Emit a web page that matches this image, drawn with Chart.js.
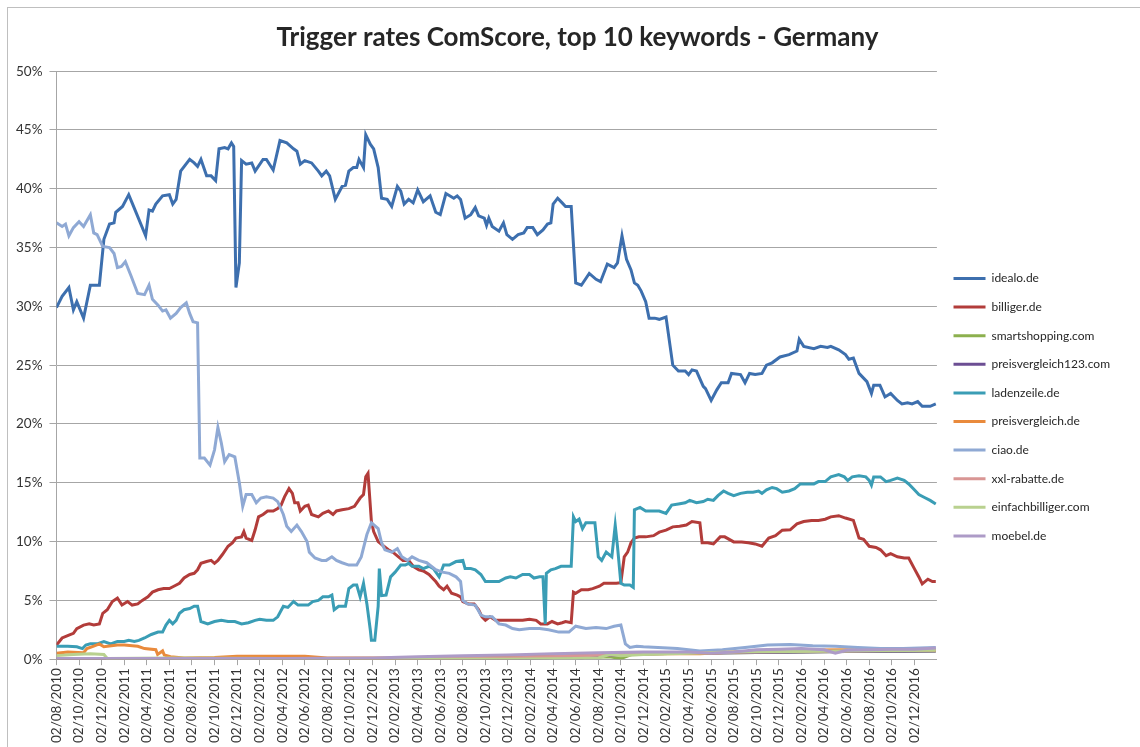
<!DOCTYPE html>
<html>
<head>
<meta charset="utf-8">
<script src="https://cdn.jsdelivr.net/npm/chart.js@4"></script>
<style>
  body { margin: 0; background: #fff; }
  #frame { position: absolute; left: 7px; top: 7px; width: 1133px; height: 740px;
           border-left: 1px solid #bfbfbf; border-top: 1px solid #bfbfbf; }
  #wrap { position: absolute; left: 8px; top: 8px; width: 1132px; height: 739px; }
</style>
</head>
<body>
<div id="frame"></div>
<div id="wrap"><canvas id="trigChart"></canvas></div>
<script>
// x = months since 02/08/2010, y = trigger rate in %
const tickLabels = [
  "02/08/2010", "02/10/2010", "02/12/2010",
  "02/02/2011", "02/04/2011", "02/06/2011", "02/08/2011", "02/10/2011", "02/12/2011",
  "02/02/2012", "02/04/2012", "02/06/2012", "02/08/2012", "02/10/2012", "02/12/2012",
  "02/02/2013", "02/04/2013", "02/06/2013", "02/08/2013", "02/10/2013", "02/12/2013",
  "02/02/2014", "02/04/2014", "02/06/2014", "02/08/2014", "02/10/2014", "02/12/2014",
  "02/02/2015", "02/04/2015", "02/06/2015", "02/08/2015", "02/10/2015", "02/12/2015",
  "02/02/2016", "02/04/2016", "02/06/2016", "02/08/2016", "02/10/2016", "02/12/2016"
];

const seriesNames = [
  "idealo.de", "billiger.de", "smartshopping.com", "preisvergleich123.com", "ladenzeile.de",
  "preisvergleich.de", "ciao.de", "xxl-rabatte.de", "einfachbilliger.com", "moebel.de"
];

const idealo = [
  [0,29.9],[0.5,30.85],[1.1,31.6],[1.5,29.7],[1.8,30.4],[2.4,29.0],[3.0,31.8],[3.8,31.8],
  [4.2,35.7],[4.7,37.0],[5.1,37.1],[5.25,38.0],[5.85,38.5],[6.4,39.5],[6.7,38.8],[7.9,36.0],
  [8.2,38.2],[8.5,38.1],[8.8,38.7],[9.4,39.4],[10.0,39.5],[10.3,38.7],[10.6,39.1],[11.0,41.5],
  [11.8,42.5],[12.2,42.2],[12.5,41.9],[12.8,42.5],[13.3,41.1],[13.7,41.1],[14.1,40.7],[14.4,43.4],
  [14.9,43.5],[15.2,43.4],[15.5,43.9],[15.7,43.6],[15.9,31.6],[16.2,33.7],[16.4,42.4],[16.8,42.1],
  [17.3,42.2],[17.6,41.5],[18.3,42.5],[18.6,42.5],[19.2,41.6],[19.8,44.1],[20.4,43.9],[21.0,43.4],
  [21.3,43.2],[21.6,42.1],[22.0,42.4],[22.6,42.2],[23.2,41.5],[23.5,41.1],[23.9,41.5],[24.2,41.1],
  [24.7,39.1],[25.3,40.2],[25.6,40.3],[25.9,41.5],[26.3,41.8],[26.6,41.8],[26.8,42.5],[27.2,41.8],
  [27.4,44.6],[27.8,43.8],[28.1,43.4],[28.5,41.8],[28.8,39.2],[29.3,39.1],[29.7,38.5],[30.2,40.2],
  [30.5,39.8],[30.8,38.7],[31.2,39.1],[31.6,38.8],[32.0,39.9],[32.5,38.9],[33.1,39.4],[33.6,38.0],
  [34.0,37.8],[34.5,39.6],[35.2,39.2],[35.5,39.4],[35.8,39.1],[36.2,37.5],[36.7,37.8],[37.1,38.4],
  [37.4,37.7],[37.9,37.5],[38.1,36.9],[38.3,37.5],[38.6,36.8],[39.2,36.4],[39.6,37.1],[39.9,36.1],
  [40.4,35.7],[40.9,36.1],[41.4,36.25],[41.7,36.7],[42.2,36.7],[42.6,36.1],[43.1,36.5],[43.5,37.0],
  [43.8,37.1],[44.0,38.7],[44.4,39.2],[44.8,38.8],[45.1,38.5],[45.6,38.5],[46.0,32.0],[46.5,31.8],
  [47.2,32.8],[47.8,32.3],[48.2,32.1],[48.8,33.6],[49.4,33.3],[49.7,33.7],[50.1,36.0],[50.5,34.0],
  [50.9,33.1],[51.2,32.0],[51.5,31.8],[51.8,31.3],[52.2,30.4],[52.5,29.0],[53.0,29.0],[53.4,28.9],
  [54.0,29.1],[54.6,25.0],[55.1,24.5],[55.7,24.5],[56.0,24.2],[56.3,24.6],[56.7,24.5],[57.3,23.2],
  [57.5,23.0],[58.0,22.0],[58.5,22.9],[58.9,23.5],[59.5,23.5],[59.8,24.3],[60.6,24.2],[61.0,23.5],
  [61.4,24.3],[61.9,24.2],[62.5,24.3],[62.9,25.0],[63.4,25.2],[64.1,25.7],[64.9,25.9],[65.6,26.2],
  [65.8,27.2],[66.2,26.6],[67.1,26.4],[67.7,26.6],[68.3,26.5],[68.6,26.6],[69.3,26.3],[69.9,25.9],
  [70.2,25.5],[70.6,25.6],[71.1,24.3],[71.8,23.6],[72.2,22.6],[72.4,23.3],[72.95,23.3],[73.4,22.3],
  [73.9,22.6],[74.5,22.0],[74.9,21.7],[75.4,21.8],[75.8,21.7],[76.3,21.9],[76.7,21.5],[77.4,21.5],
  [77.9,21.7]
];

const billiger = [
  [0,1.2],[0.5,1.8],[1.1,2.05],[1.5,2.2],[1.8,2.6],[2.4,2.9],[2.9,3.0],[3.3,2.9],[3.8,3.0],
  [4.1,3.9],[4.5,4.2],[4.95,4.9],[5.4,5.2],[5.8,4.6],[6.3,4.9],[6.7,4.6],[7.2,4.7],[7.6,5.0],
  [8.1,5.3],[8.5,5.7],[9.0,5.9],[9.5,6.0],[10.0,6.0],[10.4,6.2],[10.9,6.45],[11.3,6.9],[11.8,7.2],
  [12.2,7.3],[12.5,7.6],[12.8,8.15],[13.3,8.3],[13.7,8.4],[14.0,8.15],[14.3,8.4],[14.7,8.9],
  [15.2,9.6],[15.6,9.9],[15.9,10.3],[16.4,10.4],[16.6,10.85],[16.8,10.3],[17.3,10.1],[17.6,11.0],
  [17.9,12.1],[18.3,12.3],[18.7,12.6],[19.2,12.6],[19.6,12.8],[19.9,13.1],[20.2,13.8],[20.6,14.5],
  [20.9,14.1],[21.1,13.3],[21.4,13.3],[21.6,12.6],[22.0,13.0],[22.3,13.1],[22.6,12.3],[23.2,12.1],
  [23.6,12.4],[24.1,12.6],[24.5,12.3],[24.8,12.6],[25.3,12.7],[25.9,12.8],[26.4,13.0],[26.9,13.7],
  [27.2,14.0],[27.4,15.5],[27.6,15.8],[27.9,11.7],[28.1,10.85],[28.5,10.0],[29.0,9.6],[29.4,9.3],
  [29.8,9.1],[30.3,8.7],[30.7,8.4],[31.2,8.4],[31.6,7.9],[32.1,7.6],[32.5,7.5],[33.0,7.2],[33.3,6.9],
  [33.6,6.6],[33.9,6.2],[34.3,5.9],[34.6,6.2],[35.0,5.6],[35.5,5.45],[35.8,5.3],[36.0,4.9],
  [36.5,4.7],[37.0,4.7],[37.4,4.2],[37.7,3.6],[38.0,3.3],[38.4,3.6],[38.9,3.3],[39.5,3.3],
  [40.1,3.3],[40.7,3.3],[41.3,3.3],[41.9,3.4],[42.5,3.3],[42.9,3.0],[43.5,3.0],[43.9,3.2],
  [44.4,3.0],[44.8,3.1],[45.1,3.2],[45.6,3.1],[45.8,5.7],[46.0,5.6],[46.5,5.9],[47.1,5.9],
  [47.5,6.0],[48.1,6.2],[48.5,6.45],[49.0,6.45],[49.6,6.45],[50.0,6.5],[50.3,8.7],[50.6,9.1],
  [50.9,9.9],[51.2,10.3],[51.6,10.4],[52.2,10.4],[52.9,10.5],[53.4,10.8],[54.0,10.97],[54.6,11.25],
  [55.2,11.3],[55.8,11.4],[56.3,11.7],[57.0,11.6],[57.2,9.9],[57.7,9.9],[58.2,9.8],[58.8,10.4],
  [59.2,10.4],[60.0,9.97],[60.7,9.97],[61.3,9.9],[61.9,9.8],[62.5,9.6],[63.1,10.3],[63.7,10.5],
  [64.3,10.97],[65.0,11.0],[65.6,11.5],[66.2,11.7],[66.9,11.8],[67.5,11.8],[68.1,11.9],[68.6,12.1],
  [69.3,12.2],[69.9,12.0],[70.6,11.8],[71.1,10.3],[71.5,10.2],[72.0,9.6],[72.6,9.5],[73.0,9.3],
  [73.5,8.8],[73.9,8.97],[74.5,8.7],[75.1,8.6],[75.5,8.6],[76.0,7.7],[76.4,6.99],[76.7,6.4],
  [77.2,6.8],[77.6,6.6],[77.9,6.6]
];

const smartshopping = [
  [0,0],[35,0],[40,0.1],[45,0.15],[49,0.2],[50,0.05],[51,0.4],[55,0.5],[60,0.55],[70,0.65],[77.9,0.7]
];

const preisvergleich123 = [
  [0,0],[40,0],[43.5,0.1],[45,0.2],[46.5,0.1],[48,0.3],[52,0.45],[60,0.55],[70,0.65],[77.9,0.7]
];

const ladenzeile = [
  [0,1.1],[1.0,1.1],[1.8,1.05],[2.3,0.9],[2.6,1.2],[3.0,1.3],[3.6,1.3],[4.2,1.5],[4.8,1.3],
  [5.4,1.5],[6.0,1.5],[6.4,1.6],[6.9,1.5],[7.3,1.6],[7.8,1.8],[8.4,2.1],[9.0,2.3],[9.4,2.3],
  [9.7,2.9],[10.0,3.3],[10.3,3.0],[10.6,3.3],[10.9,3.9],[11.3,4.2],[11.8,4.3],[12.2,4.5],[12.5,4.5],
  [12.8,3.2],[13.4,3.0],[14.0,3.2],[14.6,3.3],[15.2,3.2],[15.8,3.2],[16.4,3.0],[17.0,3.1],
  [17.6,3.3],[18.0,3.4],[18.6,3.3],[19.2,3.3],[19.6,3.6],[20.1,4.5],[20.5,4.4],[21.0,4.9],
  [21.4,4.6],[22.3,4.6],[22.7,4.9],[23.2,5.0],[23.6,5.3],[24.1,5.3],[24.4,5.45],[24.6,4.2],
  [25.0,4.5],[25.6,4.5],[25.9,6.0],[26.3,6.3],[26.6,6.3],[26.9,5.3],[27.2,6.45],[27.5,4.7],
  [27.8,2.5],[27.9,1.6],[28.2,1.6],[28.5,4.5],[28.6,7.7],[28.8,5.4],[29.2,5.45],[29.6,7.0],
  [30.0,7.4],[30.5,8.0],[30.9,8.0],[31.2,8.15],[31.5,7.9],[32.1,7.9],[32.5,7.7],[33.0,7.9],
  [33.4,7.7],[33.9,7.0],[34.3,8.0],[34.8,8.0],[35.4,8.3],[36.0,8.4],[36.2,7.7],[36.7,7.7],
  [37.1,7.6],[37.6,7.2],[38.0,6.6],[38.4,6.6],[39.2,6.6],[39.8,6.9],[40.2,7.0],[40.7,6.9],
  [41.3,7.2],[41.9,7.2],[42.3,6.9],[42.8,7.0],[43.1,7.0],[43.3,3.0],[43.4,7.3],[43.8,7.6],
  [44.2,7.7],[44.7,7.9],[45.6,7.9],[45.8,12.1],[46.0,11.7],[46.3,11.9],[46.6,11.1],[46.9,11.6],
  [47.7,11.6],[48.0,8.7],[48.3,8.4],[48.7,9.1],[49.2,8.7],[49.5,11.4],[49.7,9.6],[50.0,6.45],
  [50.3,6.3],[50.8,6.3],[51.1,6.1],[51.2,12.7],[51.7,12.9],[52.2,12.6],[53.4,12.6],[54.0,12.4],
  [54.5,13.1],[55.1,13.2],[55.7,13.3],[56.1,13.5],[56.7,13.3],[57.3,13.4],[57.7,13.6],[58.2,13.5],
  [58.6,13.9],[59.1,14.3],[59.5,14.1],[60.0,13.9],[60.6,14.1],[61.2,14.2],[61.7,14.2],[62.2,14.3],
  [62.5,14.1],[62.9,14.4],[63.4,14.6],[63.8,14.5],[64.3,14.2],[64.9,14.3],[65.4,14.5],[65.9,14.9],
  [66.5,14.9],[67.1,14.9],[67.5,15.1],[68.1,15.1],[68.6,15.5],[69.3,15.7],[69.8,15.5],[70.1,15.2],
  [70.5,15.5],[71.1,15.6],[71.7,15.5],[72.0,15.2],[72.2,14.8],[72.4,15.5],[73.0,15.5],[73.5,15.1],
  [73.9,15.2],[74.5,15.4],[75.1,15.2],[75.5,14.9],[76.0,14.4],[76.4,14.0],[76.9,13.75],[77.4,13.5],
  [77.9,13.2]
];

const preisvergleich = [
  [0,0.5],[1.0,0.6],[2.4,0.55],[2.7,0.9],[3.3,1.1],[3.8,1.3],[4.2,1.05],[5.4,1.2],[6.0,1.2],
  [7.2,1.1],[7.8,0.9],[8.8,0.8],[8.96,0.4],[9.4,0.7],[9.55,0.35],[10.1,0.2],[11.3,0.1],[14,0.15],
  [16,0.25],[22,0.25],[24,0.1],[30,0.1],[36,0.15],[42,0.25],[48,0.4],[52,0.45],[57,0.45],
  [60,0.6],[64,0.75],[70,0.8],[74,0.75],[77.9,0.75]
];

const ciao = [
  [0,37.1],[0.5,36.8],[0.8,37.0],[1.1,36.0],[1.5,36.7],[2.0,37.2],[2.4,36.8],[3.0,37.8],[3.3,36.25],
  [3.6,36.1],[4.1,35.1],[4.7,35.0],[5.1,34.5],[5.4,33.3],[5.75,33.4],[6.1,33.8],[6.6,32.6],
  [7.2,31.1],[7.8,31.0],[8.2,31.8],[8.5,30.6],[9.0,30.1],[9.4,29.6],[9.7,29.7],[10.1,29.0],
  [10.6,29.4],[11.0,29.9],[11.5,30.3],[11.8,29.4],[12.1,28.7],[12.5,28.6],[12.7,17.1],[13.1,17.1],
  [13.6,16.5],[14.0,17.8],[14.3,19.7],[14.6,18.4],[14.9,16.8],[15.3,17.4],[15.8,17.2],[16.2,15.0],
  [16.5,13.0],[16.8,14.0],[17.3,14.0],[17.7,13.3],[18.1,13.7],[18.6,13.8],[19.2,13.7],[19.6,13.4],
  [20.1,12.3],[20.4,11.3],[20.8,10.85],[21.3,11.4],[21.7,10.85],[22.2,10.0],[22.4,9.1],[22.9,8.6],
  [23.5,8.4],[23.9,8.4],[24.4,8.7],[24.8,8.4],[25.3,8.2],[25.9,8.0],[26.6,8.0],[27.0,8.7],
  [27.5,10.6],[27.9,11.6],[28.5,11.1],[28.8,9.9],[29.1,9.3],[29.7,9.1],[30.2,9.4],[30.6,8.7],
  [31.1,8.4],[31.5,8.7],[32.1,8.4],[32.8,8.2],[33.6,7.6],[34.2,7.4],[34.8,7.3],[35.4,7.0],
  [35.8,6.6],[36.0,5.0],[36.4,4.7],[37.1,4.6],[37.6,3.75],[38.0,3.6],[38.6,3.6],[39.2,3.0],
  [39.8,2.9],[40.4,2.6],[41.0,2.5],[41.9,2.6],[42.8,2.6],[43.6,2.5],[44.5,2.3],[45.4,2.3],
  [46.0,2.8],[46.9,2.6],[47.8,2.7],[48.7,2.6],[49.4,2.8],[50.0,2.9],[50.4,1.3],[50.8,1.0],
  [51.4,1.1],[52,1.05],[55,0.9],[57,0.7],[59,0.8],[61,1.0],[63,1.2],[65,1.25],[67,1.15],
  [69,1.1],[71,1.0],[73,0.9],[75,0.9],[77.9,1.0]
];

const xxlRabatte = [
  [0,0],[30,0],[40,0.1],[50,0.4],[60,0.6],[70,0.7],[77.9,0.8]
];

const einfachbilliger = [
  [0,0.3],[1.5,0.4],[3,0.45],[4.2,0.4],[4.5,0.05],[10,0.1],[20,0.05],[30,0],[40,0],[46,0.05],
  [48,0.1],[49,0.4],[50,0.3],[52,0.4],[60,0.6],[70,0.7],[77.9,0.75]
];

const moebel = [
  [0,0.05],[10,0.05],[20,0.05],[28,0.1],[32,0.2],[36,0.3],[40,0.35],[44,0.45],[48,0.55],
  [52,0.6],[56,0.6],[58,0.5],[60,0.6],[62,0.8],[64,0.85],[66,0.9],[68,0.8],[69,0.5],[70,0.75],
  [72,0.8],[74,0.85],[76,0.85],[77.9,0.95]
];

const seriesData = [idealo, billiger, smartshopping, preisvergleich123, ladenzeile,
  preisvergleich, ciao, xxlRabatte, einfachbilliger, moebel];
const seriesColors = ["#3d6fae", "#b23c3a", "#8cb04e", "#6c4e93", "#3a9db5",
  "#e98a3c", "#8fa9d4", "#d99694", "#b9d18f", "#ad9bc7"];

const datasets = seriesNames.map((name, i) => ({
  label: name,
  data: seriesData[i].map((p) => ({ x: p[0], y: p[1] })),
  borderColor: seriesColors[i],
  backgroundColor: seriesColors[i],
  borderWidth: 3,
  pointRadius: 0,
  tension: 0,
  order: seriesNames.length - i, // later series on top, like Excel
}));

const ctx = document.getElementById("trigChart");
new Chart(ctx, {
  type: "line",
  data: { datasets: datasets },
  options: {
    responsive: true,
    maintainAspectRatio: false,
    animation: false,
    layout: { padding: { left: 1, right: 20, bottom: 1, top: 0 } },
    plugins: {
      title: {
        display: true,
        // leading spaces nudge the centred title right, the legend padding eats into its box
        text: "\u2002\u2002Trigger rates ComScore, top 10 keywords - Germany",
        font: { family: "Lato", size: 26, weight: "bold" },
        color: "#262626",
        padding: { top: 14, bottom: 18 },
      },
      legend: {
        position: "right",
        title: { display: true, text: "", padding: { top: 23, bottom: 23 } },
        labels: {
          usePointStyle: true,
          pointStyle: "line",
          pointStyleWidth: 32,
          padding: 16.6,
          font: { family: "Lato", size: 12 },
          color: "#262626",
          sort: (a, b) => a.datasetIndex - b.datasetIndex,
        },
      },
      tooltip: { enabled: false },
    },
    scales: {
      x: {
        type: "linear",
        min: 0,
        max: 78,
        afterBuildTicks: (axis) => {
          axis.ticks = tickLabels.map((t, i) => ({ value: i * 2 }));
        },
        ticks: {
          autoSkip: false,
          minRotation: 90,
          maxRotation: 90,
          padding: 3,
          font: { family: "Lato", size: 13.5 },
          color: "#333",
          callback: (v) => tickLabels[Math.round(v / 2)],
        },
        grid: { drawOnChartArea: false, drawTicks: true, tickLength: 6, color: "#a6a6a6" },
        border: { color: "#a6a6a6" },
      },
      y: {
        min: 0,
        max: 50,
        ticks: {
          stepSize: 5,
          padding: 7,
          font: { family: "Lato", size: 13.5 },
          color: "#333",
          callback: (v) => v + "%",
        },
        grid: { color: "#a6a6a6", tickLength: 7 },
        border: { color: "#a6a6a6" },
      },
    },
  },
});
</script>
</body>
</html>
